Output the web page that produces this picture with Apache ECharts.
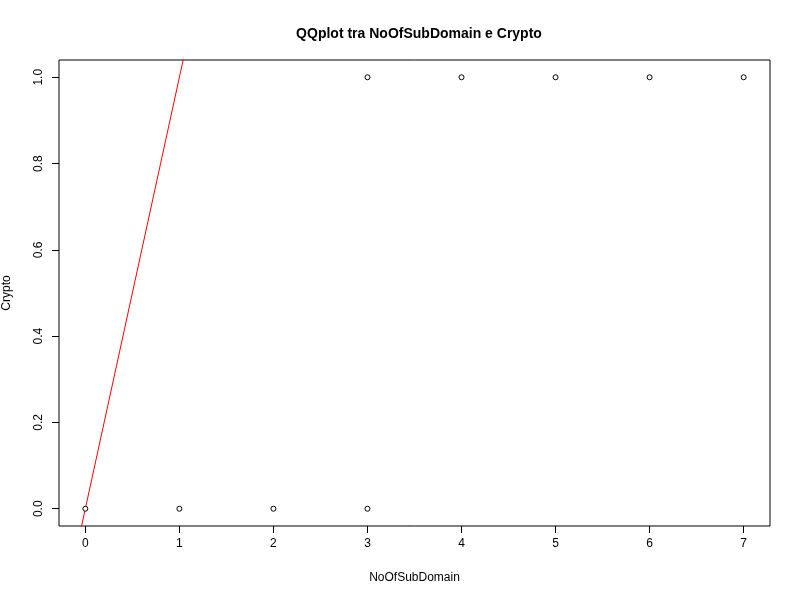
<!DOCTYPE html>
<html><head><meta charset="utf-8">
<script src="https://cdn.jsdelivr.net/npm/echarts@6/dist/echarts.min.js"></script>
<style>html,body{margin:0;background:#fff}#c{width:800px;height:600px}</style>
</head><body><div id="c"></div>
<script>
const xVals = [0, 1, 2, 3, 3, 4, 5, 6, 7];
const yVals = [0, 0, 0, 0, 1, 1, 1, 1, 1];
const xTicks = [0, 1, 2, 3, 4, 5, 6, 7];
const yTicks = [0, 0.2, 0.4, 0.6, 0.8, 1.0];
const refLine = [[-1, -1], [2, 2]]; // y = x

const chart = echarts.init(document.getElementById('c'));
const font = 'Liberation Sans, Arial, sans-serif';
chart.setOption({
  animation: false,
  title: {
    text: 'QQplot tra NoOfSubDomain e Crypto', left: 414, top: 22, textAlign: 'center',
    textStyle: { fontFamily: font, fontSize: 14, fontWeight: 'bold', color: '#000' }
  },
  grid: { left: 59, right: 30, top: 60, bottom: 74, show: true, borderColor: '#000', borderWidth: 1,
    containLabel: false, outerBoundsMode: 'none' },
  xAxis: {
    type: 'value', min: -0.28, max: 7.28,
    name: 'NoOfSubDomain', nameLocation: 'middle', nameGap: 46,
    nameTextStyle: { fontFamily: font, fontSize: 12, color: '#000' },
    axisLine: { show: false, onZero: false }, splitLine: { show: false },
    axisTick: { show: true, length: 7, lineStyle: { color: '#000' }, customValues: xTicks },
    axisLabel: { fontFamily: font, fontSize: 12, color: '#000', margin: 12, customValues: xTicks }
  },
  yAxis: {
    type: 'value', min: -0.04, max: 1.04,
    name: 'Crypto', nameLocation: 'middle', nameGap: 46,
    nameTextStyle: { fontFamily: font, fontSize: 12, color: '#000' },
    axisLine: { show: false, onZero: false }, splitLine: { show: false },
    axisTick: { show: true, length: 7, lineStyle: { color: '#000' }, customValues: yTicks },
    axisLabel: { fontFamily: font, fontSize: 12, color: '#000', rotate: 90, margin: 14,
      customValues: yTicks, formatter: v => v.toFixed(1) }
  },
  series: [
    { type: 'line', data: refLine, showSymbol: false, clip: true,
      lineStyle: { color: '#ff0000', width: 1 } },
    { type: 'scatter', data: xVals.map((x, i) => [x, yVals[i]]), symbol: 'circle', symbolSize: 5,
      clip: false, z: 5,
      itemStyle: { color: '#ffffff', borderColor: '#000000', borderWidth: 1, opacity: 1 } }
  ]
});
</script></body></html>
